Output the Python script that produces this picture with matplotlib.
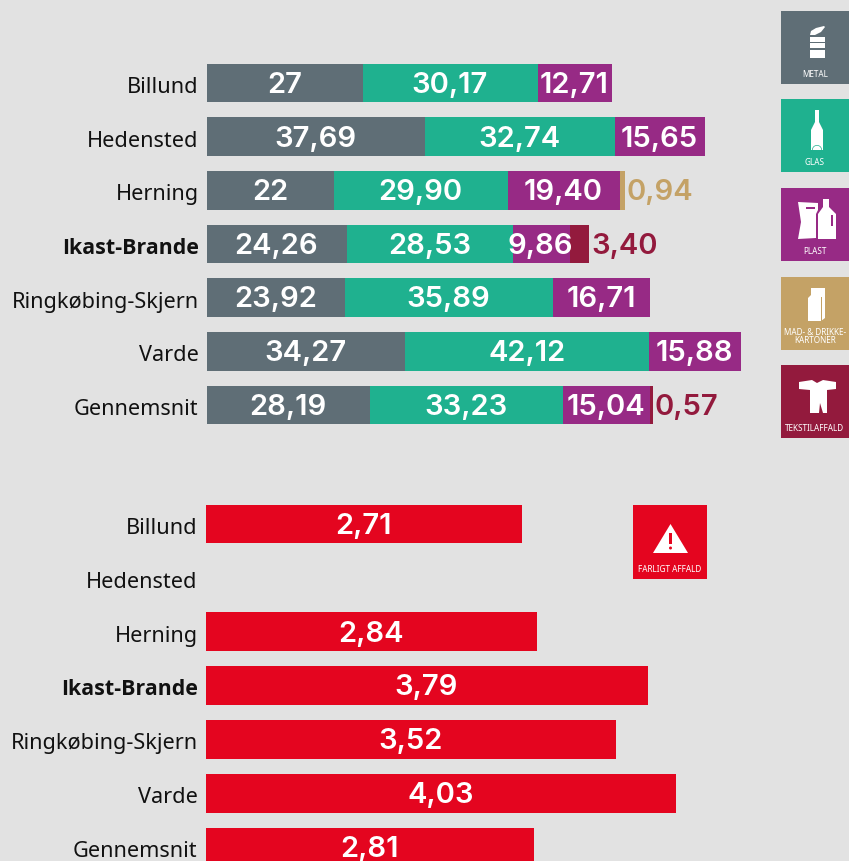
from matplotlib import pyplot as plt
from matplotlib.patches import Polygon, Rectangle, Circle, Wedge
import numpy as np

W, H = 849, 862
BG = '#E2E2E2'
GREY = '#5F6E76'
GREEN = '#1FB18F'
PURPLE = '#972A85'
TAN = '#C4A266'
MAROON = '#931A3D'
RED = '#E4051F'
INK = '#111111'

plt.rcParams['font.family'] = ['Noto Sans', 'DejaVu Sans']

municipalities = ['Billund', 'Hedensted', 'Herning', 'Ikast-Brande',
                  'Ringkøbing-Skjern', 'Varde', 'Gennemsnit']
metal = [27, 37.69, 22, 24.26, 23.92, 34.27, 28.19]
glas = [30.17, 32.74, 29.90, 28.53, 35.89, 42.12, 33.23]
plast = [12.71, 15.65, 19.40, 9.86, 16.71, 15.88, 15.04]
kartoner = [0, 0, 0.94, 0, 0, 0, 0]
tekstil = [0, 0, 0, 3.40, 0, 0, 0.57]
farligt = [2.71, 0, 2.84, 3.79, 3.52, 4.03, 2.81]

VAL_SIZE = 21
LAB_SIZE = 15.6


def fmt(v):
    if v == int(v):
        return str(int(v))
    return f'{v:.2f}'.replace('.', ',')


def pixel_axes(fig, left, right, top, bottom):
    return fig.add_axes([left / W, 1 - bottom / H, (right - left) / W, (bottom - top) / H])


def setup(ax, xmax):
    ax.set_xlim(0, xmax)
    ax.set_ylim(6.5, -0.5)
    ax.axis('off')
    ax.patch.set_alpha(0)


def value(ax, x, i, v, col, ha='center', dx=-0.5):
    ax.annotate(fmt(v), (x, i), xytext=(dx, 1.2), textcoords='offset points', ha=ha,
                va='center_baseline', color=col, fontsize=VAL_SIZE, family='Inter',
                fontweight='semibold', annotation_clip=False)


def names(ax):
    for i, name in enumerate(municipalities):
        bold = name == 'Ikast-Brande'
        ax.annotate(name, (0, i), xytext=(-6, -0.7), textcoords='offset points', ha='right',
                    va='center_baseline', fontsize=15.4 if bold else LAB_SIZE, color=INK,
                    family='Open Sans' if bold else 'Noto Sans',
                    fontweight='bold' if bold else 'normal', annotation_clip=False)


fig = plt.figure(figsize=(W / 100, H / 100), dpi=100, facecolor=BG)

# top chart: 5.79 px per unit, row step 53.67 px
ax = pixel_axes(fig, 207, 849, 84 - 26.83, 406 + 26.83)
setup(ax, 642 / 5.79)
y = np.arange(7)
left = np.zeros(7)
for vals, col in [(metal, GREY), (glas, GREEN), (plast, PURPLE), (kartoner, TAN), (tekstil, MAROON)]:
    ax.barh(y, vals, left=left, height=0.725, color=col, linewidth=0)
    for i, v in enumerate(vals):
        if v == 0:
            continue
        if col in (TAN, MAROON):
            value(ax, left[i] + v, i, v, col, ha='left', dx=1.2)
        else:
            value(ax, left[i] + v / 2, i, v, 'white')
    left = left + np.array(vals)
names(ax)

# bottom chart: 116.6 px per unit
ax2 = pixel_axes(fig, 206, 849, 525 - 26.9, 848 + 26.9)
setup(ax2, 643 / 116.6)
ax2.barh(y, farligt, height=0.72, color=RED, linewidth=0)
for i, v in enumerate(farligt):
    if v:
        value(ax2, v / 2, i, v, 'white')
names(ax2)

# overlay in pixels for the legend tiles
ov = fig.add_axes([0, 0, 1, 1], zorder=5)
ov.set_xlim(0, W)
ov.set_ylim(H - 1, -1)
ov.axis('off')
ov.patch.set_alpha(0)


def shape(pts, col='white'):
    ov.add_patch(Polygon(pts, closed=True, facecolor=col, linewidth=0))


def box(x, y, w, h, col='white'):
    ov.add_patch(Rectangle((x, y), w, h, facecolor=col, linewidth=0))


def tile(x, y, w, h, col, lines):
    box(x, y, w, h, col)
    n = len(lines)
    for k, line in enumerate(lines):
        ov.text(x + w / 2, y + h - 10.5 - (n - 1 - k) * 8, line, color='white', fontsize=5.9,
                ha='center', va='center')


tile(781, 11, 68, 73, GREY, ['METAL'])
shape([(810, 35), (811, 31), (816, 28), (824, 26), (825, 27), (821, 32), (815, 35)])
box(810, 37, 15, 5)
box(810, 43, 15, 5)
box(810, 50, 15, 8)

tile(781, 99, 68, 73, GREEN, ['GLAS'])
shape([(815, 110), (819, 110), (819, 122), (823, 130), (823, 150), (811, 150), (811, 130), (815, 122)])
ov.add_patch(Wedge((817, 150), 5, 180, 360, width=0.7, facecolor=GREEN, linewidth=0))

tile(781, 188, 68, 73, PURPLE, ['PLAST'])
shape([(798, 202), (818, 203), (818, 210), (816, 214), (816, 238), (798, 239), (801, 222)])
shape([(823, 199), (829, 199), (829, 207), (836, 214), (836, 239), (818, 239), (818, 214), (823, 207)])
box(806, 207, 9, 2, PURPLE)
box(831, 215, 2.5, 11, PURPLE)

tile(781, 277, 68, 73, TAN, ['MAD- & DRIKKE-', 'KARTONER'])
shape([(811, 288), (825, 288), (825, 318), (821, 321), (808, 321), (808, 298), (811, 295)])
box(821, 297, 0.8, 24, TAN)

tile(781, 365, 68, 73, MAROON, ['TEKSTILAFFALD'])
shape([(799, 382), (812, 380), (817, 383), (823, 380), (836, 382), (836, 389), (827, 390), (827, 413),
       (823, 413), (820, 403), (819, 413), (810, 413), (810, 390), (799, 389)])

tile(633, 505, 74, 74, RED, ['FARLIGT AFFALD'])
shape([(670.5, 524), (688, 553), (653, 553)])
box(669.2, 533, 2.6, 11, RED)
ov.add_patch(Circle((670.5, 548), 1.5, facecolor=RED, linewidth=0))

fig.savefig('out.png', dpi=100, facecolor=BG)
